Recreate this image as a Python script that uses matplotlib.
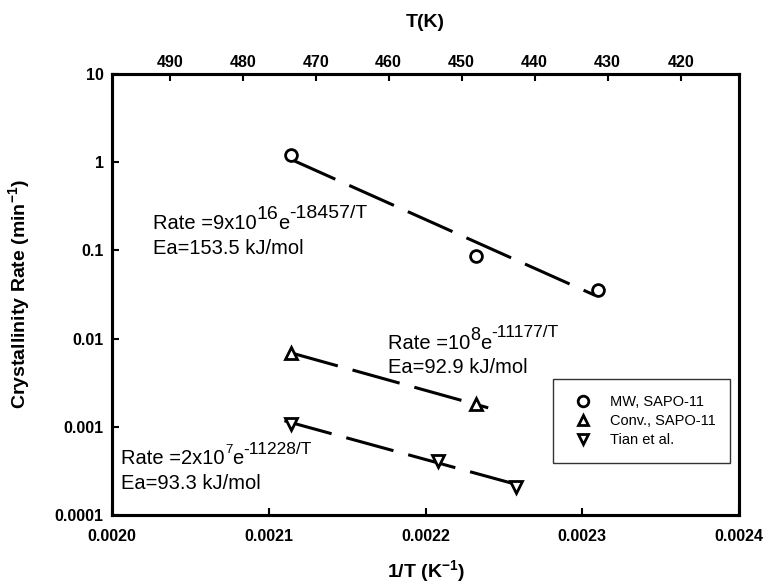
import matplotlib
matplotlib.use('Agg')
import matplotlib.pyplot as plt
from matplotlib.transforms import offset_copy

plt.rcParams['font.family'] = ['Liberation Sans', 'DejaVu Sans']
plt.rcParams['mathtext.fontset'] = 'custom'
plt.rcParams['mathtext.rm'] = 'Liberation Sans'
plt.rcParams['mathtext.it'] = 'Liberation Sans:italic'
plt.rcParams['mathtext.bf'] = 'Liberation Sans:bold'

# data (x = 1/T in 1/K, y = rate in 1/min)
mw_x = [0.002114, 0.002232, 0.002310]
mw_y = [1.2, 0.087, 0.036]
conv_x = [0.002114, 0.002232]
conv_y = [0.0068, 0.0018]
tian_x = [0.002114, 0.002208, 0.002258]
tian_y = [0.00108, 0.00041, 0.00021]

# fitted (Arrhenius) lines, end points
mw_fit_x = [0.002114, 0.002308]
mw_fit_y = [1.08, 0.031]
conv_fit_x = [0.002114, 0.002240]
conv_fit_y = [0.0069, 0.00164]
tian_fit_x = [0.002110, 0.002262]
tian_fit_y = [0.00117, 0.000212]

x_ticks = [0.0020, 0.0021, 0.0022, 0.0023, 0.0024]
y_ticks = [0.0001, 0.001, 0.01, 0.1, 1, 10]
y_labels = ['0.0001', '0.001', '0.01', '0.1', '1', '10']
t_ticks = [490, 480, 470, 460, 450, 440, 430, 420]
t_lim = (497.9, 412.0)

fig = plt.figure(figsize=(7.66, 5.84), dpi=100)
ax = fig.add_axes([0.1462, 0.1182, 0.8186, 0.7551])
renderer = fig.canvas.get_renderer()


def rich_text(x, y, pieces):
    # pieces: (text, fontsize, rise in points); laid out left to right
    dx = 0.0
    for s, size, rise in pieces:
        tr = offset_copy(ax.transData, fig=fig, x=dx, y=rise, units='points')
        t = ax.text(x, y, s, fontsize=size, va='baseline', ha='left', transform=tr)
        dx += t.get_window_extent(renderer).width * 72.0 / fig.dpi


dash = (16, 5)
ax.plot(mw_fit_x, mw_fit_y, color='black', lw=2.2, dashes=dash)
ax.plot(conv_fit_x, conv_fit_y, color='black', lw=2.2, dashes=dash)
ax.plot(tian_fit_x, tian_fit_y, color='black', lw=2.2, dashes=dash)

ax.plot(mw_x, mw_y, 'o', ms=8.5, mfc='white', mec='black', mew=2, label='MW, SAPO-11')
ax.plot(conv_x, conv_y, '^', ms=8.5, mfc='white', mec='black', mew=2, label='Conv., SAPO-11')
ax.plot(tian_x, tian_y, 'v', ms=8.5, mfc='white', mec='black', mew=2, label='Tian et al.')

ax.set_yscale('log')
ax.set_xlim(0.0020, 0.0024)
ax.set_ylim(0.0001, 10)
ax.set_xticks(x_ticks)
ax.set_xticklabels(['%.4f' % v for v in x_ticks])
ax.set_yticks(y_ticks)
ax.set_yticklabels(y_labels)
ax.yaxis.set_minor_locator(matplotlib.ticker.NullLocator())
ax.tick_params(direction='in', length=5, width=1.5, labelsize=11.5, pad=6)
ax.tick_params(axis='x', pad=10)
for lab in ax.get_xticklabels() + ax.get_yticklabels():
    lab.set_fontweight('bold')
for sp in ax.spines.values():
    sp.set_linewidth(2.2)

ax.set_xlabel(r'1/T (K$^{\mathbf{-1}}$)', fontsize=14, fontweight='bold', labelpad=10)
ax.set_ylabel(r'Crystallinity Rate (min$^{\mathbf{-1}}$)', fontsize=14, fontweight='bold', labelpad=16)

# top axis in temperature
top = ax.twiny()
top.set_xlim(*t_lim)
top.set_xticks(t_ticks)
top.set_xticklabels([str(t) for t in t_ticks])
top.tick_params(direction='in', length=5, width=1.5, labelsize=11.5, pad=3)
for lab in top.get_xticklabels():
    lab.set_fontweight('bold')
for sp in top.spines.values():
    sp.set_linewidth(2.2)
top.set_xlabel('T(K)', fontsize=14, fontweight='bold', labelpad=20)

fs = 14.5
rich_text(0.002026, 0.173, [('Rate =9x10', fs, 0), ('16', 14, 7.5), ('e', fs, 0),
                            ('-18457/T', 14, 8)])
ax.text(0.002026, 0.0905, 'Ea=153.5 kJ/mol', fontsize=fs, va='baseline')
rich_text(0.002176, 0.0077, [('Rate =10', fs, 0), ('8', 13, 6), ('e', fs, 0),
                             ('-11177/T', 12.5, 8.5)])
ax.text(0.002176, 0.00402, 'Ea=92.9 kJ/mol', fontsize=fs, va='baseline')
rich_text(0.002006, 0.00038, [('Rate =2x10', fs, 0), ('7', 9.5, 8), ('e', fs, 0),
                              ('-11228/T', 12.5, 7)])
ax.text(0.002006, 0.000197, 'Ea=93.3 kJ/mol', fontsize=fs, va='baseline')

leg = ax.legend(loc='lower left', bbox_to_anchor=(0.703, 0.118, 0.283, 0.181), mode='expand',
                borderaxespad=0, fontsize=10.5, frameon=True, fancybox=False, edgecolor='black',
                handletextpad=0.8, labelspacing=0.35, borderpad=1.1, markerscale=0.9)
leg.get_frame().set_linewidth(1.0)

fig.savefig('out.png', dpi=100)
